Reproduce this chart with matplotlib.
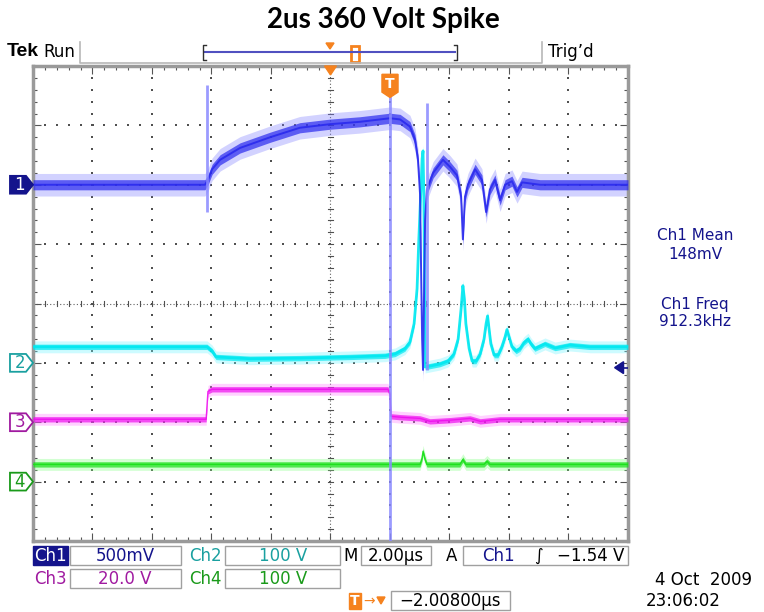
import numpy as np
import matplotlib.pyplot as plt
from matplotlib.patches import Rectangle, Polygon
from matplotlib.lines import Line2D
from matplotlib.transforms import blended_transform_factory

W, H = 764, 612

# horizontal axis: microseconds from trigger, 2 us/div, 10 divisions
t_left, t_right = -12.0, 8.0

# channel setup: volts per division and ground marker position (divisions)
ch1_scale, ch1_ground = 0.5, 2.0
ch2_scale, ch2_ground = 100.0, -1.0
ch3_scale, ch3_ground = 20.0, -2.0
ch4_scale, ch4_ground = 100.0, -3.0
trig_level = -1.54

# Ch1 (V)
ch1_t = [-12.0, -6.22, -6.12, -5.98, -5.71, -5.04, -4.03, -3.03, -2.02, -1.01,
         0.0, 0.34, 0.67, 0.84, 0.94, 1.01, 1.04, 1.08, 1.11, 1.18,
         1.24, 1.45, 1.78, 2.02, 2.25, 2.39, 2.45, 2.52, 2.62, 2.86,
         3.09, 3.23, 3.36, 3.53, 3.70, 3.87, 4.10, 4.27, 4.44, 5.04, 8.0]
ch1_v = [0.0, 0.0, 0.04, 0.13, 0.21, 0.31, 0.40, 0.48, 0.51, 0.53,
         0.56, 0.55, 0.49, 0.38, 0.21, -0.08, -0.63, -1.30, -1.56, -0.30,
         -0.04, 0.10, 0.21, 0.15, 0.08, -0.10, -0.46, -0.10, 0.0, 0.13,
         0.04, -0.23, -0.04, 0.04, -0.13, 0.0, 0.03, -0.06, 0.02, 0.0, 0.0]
# narrow glitches on Ch1
ch1_spike_t = [-6.15, 0.0, 1.24]
ch1_spike_lo = [-0.23, -3.0, -1.56]
ch1_spike_hi = [0.84, 0.88, 0.69]

# Ch2 (V)
ch2_t = [-12.0, -6.15, -5.98, -5.85, -4.71, -3.03, -1.34, -0.17, 0.17, 0.50,
         0.67, 0.81, 0.91, 0.97, 1.04, 1.08, 1.11, 1.14, 1.18, 1.68,
         1.95, 2.15, 2.29, 2.39, 2.45, 2.50, 2.55, 2.66, 2.76, 2.89,
         3.03, 3.16, 3.23, 3.28, 3.33, 3.39, 3.50, 3.63, 3.76, 3.87,
         3.93, 4.00, 4.10, 4.24, 4.37, 4.50, 4.64, 4.74, 4.87, 5.21,
         5.55, 6.05, 6.72, 8.0]
ch2_v = [27, 27, 20, 10, 7, 8, 10, 12, 15, 24,
         35, 66, 125, 209, 293, 344, 357, 276, -7, -2,
         3, 15, 40, 91, 130, 108, 66, 24, 3, 3,
         15, 40, 66, 79, 57, 32, 13, 13, 27, 44,
         56, 44, 27, 20, 24, 34, 40, 32, 24, 32,
         25, 30, 27, 27]

# Ch3 (V)
ch3_t = [-12.0, -6.18, -6.12, -5.98, -0.07, 0.0, 0.03, 0.34, 1.01, 1.34,
         2.02, 2.69, 3.03, 3.70, 8.0]
ch3_v = [1.0, 1.0, 10.4, 11.1, 11.1, 9.4, 2.0, 1.7, 1.3, 0.3,
         0.7, 1.3, 0.3, 1.0, 1.0]

# Ch4 (V)
ch4_t = [-12.0, 1.01, 1.08, 1.11, 1.18, 1.24, 2.35, 2.45, 2.55, 3.16,
         3.26, 3.36, 8.0]
ch4_v = [29, 29, 40, 51, 37, 29, 29, 37, 29, 29,
         34, 29, 29]

readout_names = ["Ch1 Mean", "Ch1 Freq"]
readout_values = ["148mV", "912.3kHz"]

navy = "#14148c"
teal = "#1aa0a0"
purple = "#a01aa0"
dgreen = "#1a9a1a"
orange = "#f5821e"

fig = plt.figure(figsize=(W / 100, H / 100), dpi=100)
fig.patch.set_facecolor("white")
ax = fig.add_axes([33 / W, 71 / H, 595 / W, 475 / H])
ax.set_xlim(t_left, t_right)
ax.set_ylim(-4, 4)


def fig_line(xs, ys, **kw):
    fig.add_artist(Line2D([x / W for x in xs], [1 - y / H for y in ys],
                          transform=fig.transFigure, **kw))


def fig_box(x0, y0, x1, y1, **kw):
    fig.add_artist(Rectangle((x0 / W, 1 - y1 / H), (x1 - x0) / W, (y1 - y0) / H,
                             transform=fig.transFigure, **kw))


def fig_text(x, y, s, **kw):
    fig.text(x / W, 1 - y / H, s, **kw)


# --- graticule ---
dot = dict(marker="s", s=1.6, color="#505050", linewidths=0, zorder=1)
yy = np.arange(-4, 4.001, 0.2)
xx = np.arange(t_left, t_right + 0.001, 0.4)
for tv in np.arange(-10, 8, 2):
    if tv == -2:
        continue
    ax.scatter(np.full_like(yy, tv), yy, **dot)
for hv in range(-3, 4):
    if hv == 0:
        continue
    ax.scatter(xx, np.full_like(xx, hv), **dot)
# centre cross with small ticks
ax.plot([t_left, t_right], [0, 0], ls=(0, (1, 2)), lw=0.8, color="#606060", zorder=1)
ax.plot([-2, -2], [-4, 4], ls=(0, (1, 2)), lw=0.8, color="#606060", zorder=1)
for x in xx:
    ax.plot([x, x], [-0.05, 0.05], lw=0.8, color="#505050", zorder=1)
for y in yy:
    ax.plot([-2.1, -1.9], [y, y], lw=0.8, color="#505050", zorder=1)

ax.set_xticks(np.arange(t_left, t_right + 0.01, 2))
ax.set_xticks(np.arange(t_left, t_right + 0.01, 0.4), minor=True)
ax.set_yticks(np.arange(-4, 4.01, 1))
ax.set_yticks(np.arange(-4, 4.01, 0.2), minor=True)
ax.tick_params(which="both", direction="in", top=True, right=True,
               labelbottom=False, labelleft=False, color="#555555", width=0.8)
ax.tick_params(which="major", length=6)
ax.tick_params(which="minor", length=3)
for sp in ax.spines.values():
    sp.set_color("#9a9a9a")
    sp.set_linewidth(2.5)


# --- traces ---
def trace(t, v, scale, ground, core, pale, hw, lw=1.0):
    t = np.asarray(t, float)
    y = ground + np.asarray(v, float) / scale
    ax.fill_between(t, y - hw, y + hw, color=pale, alpha=0.35, lw=0, zorder=2)
    ax.fill_between(t, y - hw * 0.45, y + hw * 0.45, color=core, alpha=0.7, lw=0, zorder=3)
    ax.plot(t, y, color=core, lw=lw, alpha=0.9, zorder=4)


trace(ch2_t, ch2_v, ch2_scale, ch2_ground, "#00e8f0", "#70f4ff", 0.10, lw=2.0)
trace(ch3_t, ch3_v, ch3_scale, ch3_ground, "#ee10ee", "#ff80ff", 0.10)
trace(ch4_t, ch4_v, ch4_scale, ch4_ground, "#18e018", "#80ff80", 0.10)
trace(ch1_t, ch1_v, ch1_scale, ch1_ground, "#2a2aee", "#8080ff", 0.19, lw=1.4)
ax.vlines(ch1_spike_t,
          ch1_ground + np.array(ch1_spike_lo) / ch1_scale,
          ch1_ground + np.array(ch1_spike_hi) / ch1_scale,
          color="#8a8aff", lw=2.0, alpha=0.85, zorder=5)

# trigger level arrow on right edge
ty = ch1_ground + trig_level / ch1_scale
ax.add_patch(Polygon([[7.55, ty], [7.85, ty + 0.1], [7.85, ty - 0.1]],
                     closed=True, color=navy, zorder=6))
ax.plot([7.8, 8.0], [ty, ty], color=navy, lw=1.2, zorder=6)

# horizontal position and trigger markers
ax.add_patch(Polygon([[-2.2, 4.0], [-1.8, 4.0], [-2.0, 3.85]], closed=True,
                     color=orange, clip_on=False, zorder=7))
ax.add_patch(Polygon([[-0.27, 3.86], [0.27, 3.86], [0.27, 3.56], [0.0, 3.47], [-0.27, 3.56]],
                     closed=True, color=orange, zorder=7))
ax.text(0, 3.70, "T", color="white", ha="center", va="center",
        fontsize=10, fontweight="bold", zorder=8)

# channel ground markers on left edge
blend = blended_transform_factory(ax.transAxes, ax.transData)
markers = [("1", ch1_ground, navy, navy, "white"),
           ("2", ch2_ground, teal, "white", teal),
           ("3", ch3_ground, purple, "white", purple),
           ("4", ch4_ground, dgreen, "white", dgreen)]
for lab, g, ec, fc, tc in markers:
    h = 0.15
    ax.add_patch(Polygon([[-0.0387, g + h], [-0.0118, g + h], [0.0, g],
                          [-0.0118, g - h], [-0.0387, g - h]],
                         closed=True, transform=blend, facecolor=fc, edgecolor=ec,
                         lw=1.3, clip_on=False, zorder=8))
    ax.text(-0.022, g, lab, transform=blend, ha="center", va="center",
            color=tc, fontsize=12, clip_on=False, zorder=9)

# --- header ---
fig_text(383, 20, "2us 360 Volt Spike", ha="center", va="center",
         fontsize=20, fontweight="bold", family=["Lato", "DejaVu Sans"])
fig_text(7, 52, "Tek", ha="left", va="center", fontsize=14, fontweight="bold",
         family=["Liberation Sans"])
fig_text(43, 52, "Run", ha="left", va="center", fontsize=12)
fig_text(548, 52, "Trig\u2019d", ha="left", va="center", fontsize=12)
fig_line([80, 80, 542, 542], [42, 63, 63, 42], color="#b8b8b8", lw=1.2)
fig_line([205, 455], [52, 52], color="#5050c0", lw=1.5)
fig_line([206, 203, 203, 206], [45, 45, 60, 60], color="#303030", lw=1)
fig_line([454, 457, 457, 454], [45, 45, 60, 60], color="#303030", lw=1)
fig.add_artist(Polygon([[326 / W, 1 - 43 / H], [334 / W, 1 - 43 / H], [330 / W, 1 - 49 / H]],
                       closed=True, color=orange, transform=fig.transFigure))
fig_box(351, 46, 359, 62, facecolor="white", edgecolor=orange, lw=2)

# --- measurement readouts ---
for i, (nm, val) in enumerate(zip(readout_names, readout_values)):
    y0 = 236 + i * 68
    fig_text(695, y0, nm, ha="center", va="center", fontsize=11, color=navy)
    fig_text(695, y0 + 18, val, ha="center", va="center", fontsize=11, color=navy)

# --- footer ---
fs = 12
box = dict(facecolor="white", edgecolor="#a0a0a0", lw=1)
fig_box(33, 546, 68, 565, facecolor=navy, edgecolor=navy)
fig_text(50, 556, "Ch1", ha="center", va="center", fontsize=fs, color="white")
fig_box(70, 546, 181, 565, **box)
fig_text(125, 556, "500mV", ha="center", va="center", fontsize=fs, color=navy)
fig_text(205, 556, "Ch2", ha="center", va="center", fontsize=fs, color=teal)
fig_box(225, 546, 340, 565, **box)
fig_text(283, 556, "100 V", ha="center", va="center", fontsize=fs, color=teal)
fig_text(351, 556, "M", ha="center", va="center", fontsize=fs, color="black")
fig_box(361, 546, 431, 565, **box)
fig_text(396, 556, "2.00\u00b5s", ha="center", va="center", fontsize=fs, color="black")
fig_text(452, 556, "A", ha="center", va="center", fontsize=fs, color="black")
fig_box(463, 546, 628, 565, **box)
fig_text(498, 556, "Ch1", ha="center", va="center", fontsize=fs, color=navy)
fig_text(538, 556, "\u222b", ha="center", va="center", fontsize=fs, color="black")
fig_text(624, 556, "\u22121.54 V", ha="right", va="center", fontsize=fs, color="black")

fig_text(50, 579, "Ch3", ha="center", va="center", fontsize=fs, color=purple)
fig_box(70, 569, 181, 588, **box)
fig_text(125, 579, "20.0 V", ha="center", va="center", fontsize=fs, color=purple)
fig_text(205, 579, "Ch4", ha="center", va="center", fontsize=fs, color=dgreen)
fig_box(225, 569, 340, 588, **box)
fig_text(283, 579, "100 V", ha="center", va="center", fontsize=fs, color=dgreen)

fig_box(349, 593, 361, 609, facecolor=orange, edgecolor=orange)
fig_text(355, 601, "T", ha="center", va="center", fontsize=10, color="white", fontweight="bold")
fig_text(369, 601, "\u2192", ha="center", va="center", fontsize=10, color=orange)
fig.add_artist(Polygon([[377 / W, 1 - 597 / H], [385 / W, 1 - 597 / H], [381 / W, 1 - 604 / H]],
                       closed=True, color=orange, transform=fig.transFigure))
fig_box(391, 591, 510, 610, **box)
fig_text(450, 601, "\u22122.00800\u00b5s", ha="center", va="center", fontsize=fs, color="black")

fig_text(655, 580, "4 Oct  2009", ha="left", va="center", fontsize=fs, color="black")
fig_text(646, 601, "23:06:02", ha="left", va="center", fontsize=fs, color="black")

fig.savefig("out.png", dpi=100)
